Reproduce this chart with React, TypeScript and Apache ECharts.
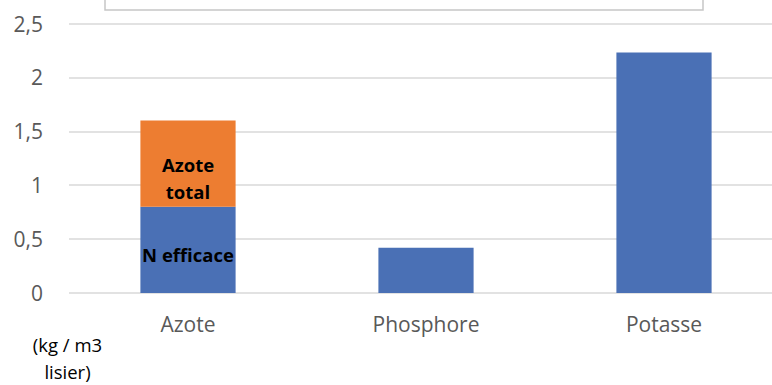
import React, { useEffect, useRef } from "react";
import * as echarts from "echarts";

const categories = ["Azote", "Phosphore", "Potasse"];
const nEfficace = [0.8, 0.42, 2.23];
const azoteTotal = [0.8, null, null];
const yTicks = [0, 0.5, 1, 1.5, 2, 2.5];

const BLUE = "#4a70b5";
const ORANGE = "#ed7d31";
const FONT = "'Open Sans', 'Noto Sans', sans-serif";

export default function App() {
  const ref = useRef<HTMLDivElement>(null);

  useEffect(() => {
    const chart = echarts.init(ref.current!, null, { renderer: "svg" });
    chart.setOption({
      animation: false,
      grid: { left: 69, right: 0, top: 23.5, bottom: 92, containLabel: false },
      xAxis: {
        type: "category",
        data: categories,
        axisLine: { show: false },
        axisTick: { show: false },
        axisLabel: { color: "#595959", fontSize: 21, fontFamily: FONT, margin: 20 },
      },
      yAxis: {
        type: "value",
        min: 0,
        max: 2.5,
        interval: 0.5,
        axisLabel: {
          color: "#595959",
          fontSize: 21,
          fontFamily: FONT,
          margin: 26,
          formatter: (v: number) => (yTicks.includes(v) ? String(v).replace(".", ",") : ""),
        },
        splitLine: { lineStyle: { color: "#d9d9d9", width: 1.5 } },
      },
      series: [
        {
          name: "N efficace",
          type: "bar",
          stack: "n",
          data: nEfficace,
          barWidth: "40%",
          itemStyle: { color: BLUE },
          label: {
            show: true,
            position: "inside",
            offset: [0, 5],
            formatter: (p: any) => (p.dataIndex === 0 ? "N efficace" : ""),
            color: "#000",
            fontWeight: "bold",
            fontSize: 18.5,
            fontFamily: FONT,
          },
        },
        {
          name: "Azote total",
          type: "bar",
          stack: "n",
          data: azoteTotal,
          barWidth: "40%",
          itemStyle: { color: ORANGE },
          label: {
            show: true,
            position: "inside",
            offset: [0, 14],
            formatter: "Azote\ntotal",
            color: "#000",
            fontWeight: "bold",
            fontSize: 18.5,
            lineHeight: 27,
            fontFamily: FONT,
          },
        },
      ],
      graphic: [
        {
          type: "rect",
          shape: { x: 105, y: -10, width: 598, height: 20 },
          style: { fill: "#fff", stroke: "#c6c6c6", lineWidth: 1.5 },
        },
        {
          type: "text",
          x: 67.5,
          y: 358,
          style: {
            text: "(kg / m3\nlisier)",
            fill: "#000",
            fontSize: 18.5,
            lineHeight: 27,
            fontFamily: FONT,
            align: "center",
            verticalAlign: "middle",
          },
        },
      ],
    });
    return () => chart.dispose();
  }, []);

  return (
    <div style={{ width: 772, height: 385, position: "absolute", left: 0, top: 0, overflow: "hidden" }}>
      <div ref={ref} style={{ width: 783, height: 385 }} />
    </div>
  );
}
